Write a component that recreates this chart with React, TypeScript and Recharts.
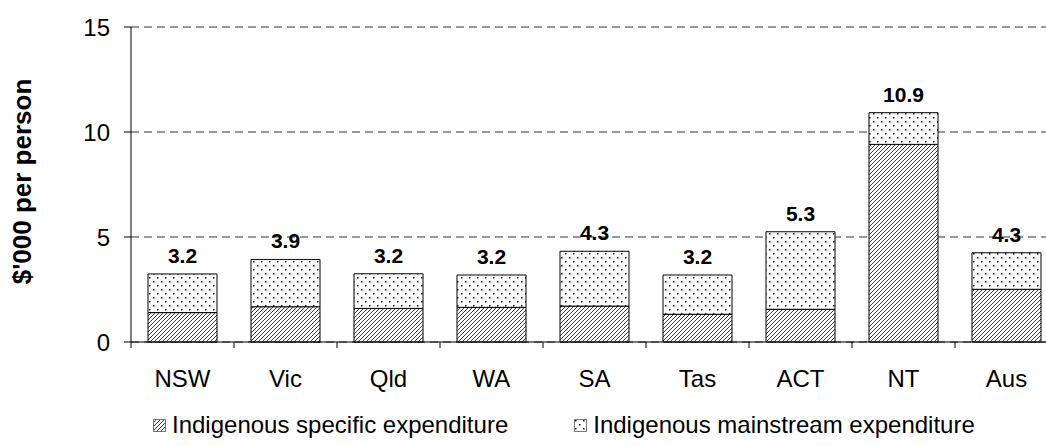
import { Bar, BarChart, CartesianGrid, LabelList, Legend, XAxis, YAxis } from 'recharts';

const categories = ['NSW', 'Vic', 'Qld', 'WA', 'SA', 'Tas', 'ACT', 'NT', 'Aus'];
const specific = [1.4, 1.68, 1.6, 1.65, 1.71, 1.32, 1.56, 9.41, 2.51];
const mainstream = [1.84, 2.25, 1.65, 1.54, 2.61, 1.87, 3.69, 1.51, 1.74];
const totals = ['3.2', '3.9', '3.2', '3.2', '4.3', '3.2', '5.3', '10.9', '4.3'];
const yTicks = [0, 5, 10, 15];

const FONT = '"Liberation Sans", Arial, sans-serif';
const CHART_W = 1070;
const YAXIS_W = 131;
const RIGHT = 12;
const band = (CHART_W - YAXIS_W - RIGHT) / categories.length;

const data = categories.map((name, i) => ({
  name,
  specific: specific[i],
  mainstream: mainstream[i],
  total: totals[i],
}));

const CategoryTick = (props: any) => {
  const { x, y, payload } = props;
  const left = x - band / 2;
  return (
    <g>
      <line x1={left} y1={y} x2={left} y2={y + 6} stroke="#000" />
      <text x={x} y={y + 45} textAnchor="middle" fontSize={24} fill="#000">
        {payload.value}
      </text>
    </g>
  );
};

const TotalLabel = (props: any) => {
  const { x, y, width, index } = props;
  return (
    <text x={x + width / 2} y={y - 11} textAnchor="middle" fontSize={21} fontWeight="bold" fill="#000">
      {totals[index]}
    </text>
  );
};

const YTitle = (props: any) => {
  const { x, y, height } = props.viewBox;
  return (
    <text
      transform={`translate(${x + 22},${y + height / 2 - 3}) rotate(-90)`}
      textAnchor="middle"
      dominantBaseline="central"
      fontSize={26}
      fontWeight="bold"
      fill="#000"
    >
      $'000 per person
    </text>
  );
};

const Swatch = ({ fill }: { fill: string }) => (
  <svg width={13} height={13} style={{ marginRight: 6 }}>
    <rect x={0.5} y={0.5} width={12} height={12} fill={fill} stroke="#777" />
  </svg>
);

const LegendBox = () => (
  <div style={{ display: 'flex', alignItems: 'center', paddingLeft: 153, fontSize: 24, fontFamily: FONT, color: '#000' }}>
    <Swatch fill="url(#hatch)" />
    <span style={{ marginRight: 66 }}>Indigenous specific expenditure</span>
    <Swatch fill="url(#dots)" />
    <span>Indigenous mainstream expenditure</span>
  </div>
);

export default function App() {
  return (
    <div style={{ position: 'fixed', left: 0, top: 0, width: 1046, height: 446, overflow: 'hidden', background: '#fff' }}>
      <BarChart
        width={CHART_W}
        height={446}
        data={data}
        margin={{ top: 27, right: RIGHT, bottom: 0, left: 0 }}
        barSize={69}
        style={{ fontFamily: FONT }}
      >
        <defs>
          <pattern id="hatch" patternUnits="userSpaceOnUse" width={4} height={4}>
            <rect width={4} height={4} fill="#fff" />
            <path d="M-1,1 l2,-2 M0,4 l4,-4 M3,5 l2,-2" stroke="#222" strokeWidth={0.9} />
          </pattern>
          <pattern id="dots" patternUnits="userSpaceOnUse" width={8} height={8}>
            <rect width={8} height={8} fill="#fff" />
            <rect x={1} y={1} width={1.5} height={1.5} fill="#111" />
            <rect x={5} y={5} width={1.5} height={1.5} fill="#111" />
          </pattern>
        </defs>
        <CartesianGrid vertical={false} stroke="#333" strokeDasharray="8 5" />
        <XAxis
          dataKey="name"
          height={64}
          tick={<CategoryTick />}
          tickLine={false}
          tickSize={0}
          tickMargin={0}
          axisLine={{ stroke: '#000' }}
          interval={0}
        />
        <YAxis
          width={YAXIS_W}
          domain={[0, 15]}
          ticks={yTicks}
          tick={{ fontSize: 24, fill: '#000' }}
          tickSize={7}
          tickMargin={14}
          tickLine={{ stroke: '#000' }}
          axisLine={{ stroke: '#000' }}
          label={<YTitle />}
        />
        <Legend
          content={<LegendBox />}
          wrapperStyle={{ left: 0, top: 411, width: 1046, height: 40 }}
        />
        <Bar dataKey="specific" stackId="a" fill="url(#hatch)" stroke="#000" strokeWidth={1} isAnimationActive={false} />
        <Bar dataKey="mainstream" stackId="a" fill="url(#dots)" stroke="#000" strokeWidth={1} isAnimationActive={false}>
          <LabelList dataKey="total" content={<TotalLabel />} />
        </Bar>
      </BarChart>
    </div>
  );
}
